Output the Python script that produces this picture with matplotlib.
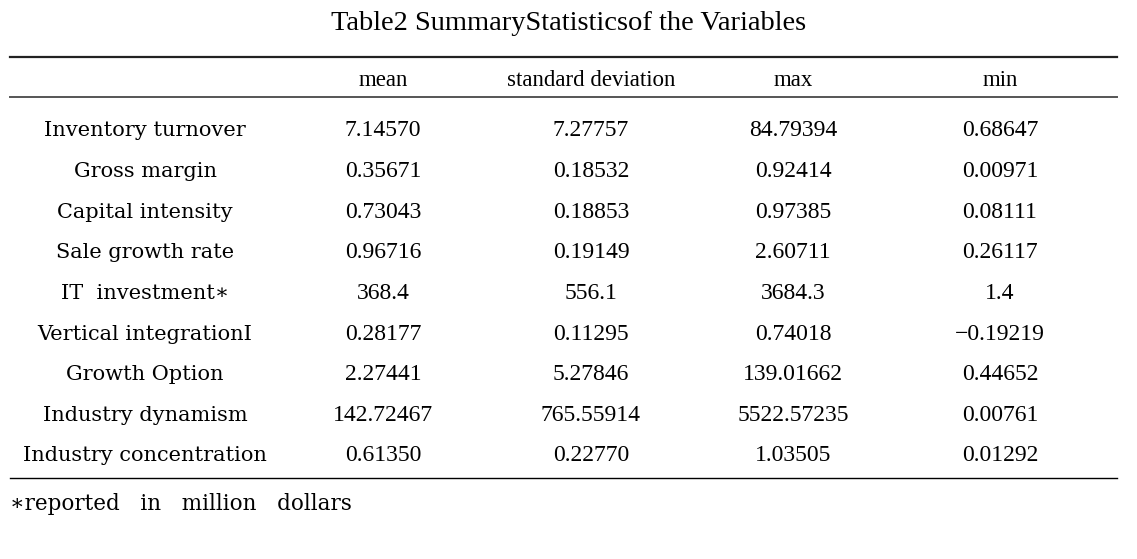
import matplotlib
matplotlib.use("Agg")
import matplotlib.pyplot as plt
from matplotlib.lines import Line2D

# table contents
title = "Table2 SummaryStatisticsof the Variables"
columns = ["mean", "standard deviation", "max", "min"]
variables = ["Inventory turnover", "Gross margin", "Capital intensity", "Sale growth rate",
             "IT  investment\u2217", "Vertical integrationI", "Growth Option",
             "Industry dynamism", "Industry concentration"]
mean_vals = ["7.14570", "0.35671", "0.73043", "0.96716", "368.4", "0.28177", "2.27441",
             "142.72467", "0.61350"]
std_vals = ["7.27757", "0.18532", "0.18853", "0.19149", "556.1", "0.11295", "5.27846",
            "765.55914", "0.22770"]
max_vals = ["84.79394", "0.92414", "0.97385", "2.60711", "3684.3", "0.74018", "139.01662",
            "5522.57235", "1.03505"]
min_vals = ["0.68647", "0.00971", "0.08111", "0.26117", "1.4", "\u22120.19219", "0.44652",
            "0.00761", "0.01292"]
footnote = "\u2217reported   in   million   dollars"

W, H = 1137, 559
fig = plt.figure(figsize=(W / 100, H / 100), dpi=100)
plt.rcParams['font.family'] = ['Liberation Serif', 'DejaVu Serif']
wide = ['DejaVu Serif', 'Liberation Serif']

def fx(px):
    return px / W

def fy(py):
    return 1 - py / H

fs = 17
fig.text(fx(569), fy(23), title, ha="center", va="center", fontsize=20.5)

# rules
fig.add_artist(Line2D([fx(10), fx(1117)], [fy(57), fy(57)], color="#222222", lw=1.6))
fig.add_artist(Line2D([fx(10), fx(1117)], [fy(97), fy(97)], color="#555555", lw=1.4))
fig.add_artist(Line2D([fx(10), fx(1117)], [fy(478), fy(478)], color="black", lw=1.0))

col_x = [383, 591, 793, 1000]
for x, c in zip(col_x, columns):
    fig.text(fx(x), fy(80), c, ha="center", va="center", fontsize=16.5)

row_y0, row_dy = 131, 40.6
for i, name in enumerate(variables):
    y = fy(row_y0 + i * row_dy)
    fig.text(fx(145), y, name, ha="center", va="center", fontsize=15, family=wide)
    for x, vals in zip(col_x, [mean_vals, std_vals, max_vals, min_vals]):
        fig.text(fx(x), y, vals[i], ha="center", va="center", fontsize=fs)

fig.text(fx(10), fy(504), footnote, ha="left", va="center", fontsize=15.5, family=wide)

plt.savefig("out.png", dpi=100)
